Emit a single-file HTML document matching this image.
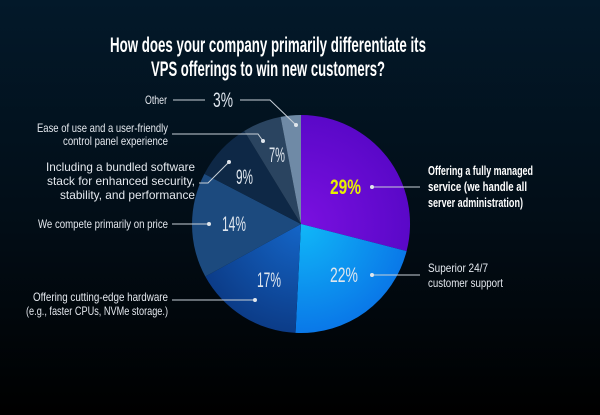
<!DOCTYPE html><html><head><style>
body{margin:0;width:600px;height:415px;overflow:hidden;background:linear-gradient(180deg,#03192a 0%,#020d16 55%,#000 100%);font-family:"Liberation Sans",sans-serif}
</style></head><body>
<svg width="600" height="415" xmlns="http://www.w3.org/2000/svg" style="position:absolute;left:0;top:0">
<defs>
<radialGradient id="gp" cx="301" cy="224" r="109" gradientUnits="userSpaceOnUse"><stop offset="0" stop-color="#7a10e0"/><stop offset="1" stop-color="#5a08c8"/></radialGradient>
<radialGradient id="gl" cx="301" cy="224" r="109" gradientUnits="userSpaceOnUse"><stop offset="0" stop-color="#10b8f8"/><stop offset="1" stop-color="#0a78e8"/></radialGradient>
<radialGradient id="gb" cx="301" cy="224" r="109" gradientUnits="userSpaceOnUse"><stop offset="0" stop-color="#1466c8"/><stop offset="1" stop-color="#0c3c88"/></radialGradient>
</defs>
<g font-family="Liberation Sans, sans-serif" font-size="21" font-weight="bold" fill="#fff">
<text x="110" y="52" textLength="316" lengthAdjust="spacingAndGlyphs">How does your company primarily differentiate its</text>
<text x="151" y="76" textLength="234" lengthAdjust="spacingAndGlyphs">VPS offerings to win new customers?</text>
</g>
<g stroke="none">
<path d="M301 224 L301 115 A109 109 0 0 1 406.6 251.1 Z" fill="url(#gp)"/>
<path d="M301 224 L406.6 251.1 A109 109 0 0 1 295.5 332.9 Z" fill="url(#gl)"/>
<path d="M301 224 L295.5 332.9 A109 109 0 0 1 205.3 276.5 Z" fill="url(#gb)"/>
<path d="M301 224 L205.3 276.5 A109 109 0 0 1 204.4 173.9 Z" fill="#1c4a7e"/>
<path d="M301 224 L204.4 173.9 A109 109 0 0 1 244.2 131 Z" fill="#0e2846"/>
<path d="M301 224 L244.2 131 A109 109 0 0 1 280.6 116.9 Z" fill="#2a4460"/>
<path d="M301 224 L280.6 116.9 A109 109 0 0 1 301 115 Z" fill="#6f8aa6"/>
</g>
<g stroke="#c8d0d8" stroke-width="1" fill="none">
<path d="M173 100 H205 M240 100 H270 L296 125"/>
<path d="M172 134 H258 L263 141"/>
<path d="M199 183 H208 L229 162"/>
<path d="M172 224 H209"/>
<path d="M172 300 H255"/>
<path d="M372 275 H420"/>
<path d="M372 187 H420"/>
</g>
<g fill="#e0e6ec"><circle cx="296" cy="125" r="2"/><circle cx="263" cy="141" r="2"/><circle cx="229" cy="162" r="2"/><circle cx="209" cy="224" r="2"/><circle cx="255" cy="300" r="2"/><circle cx="372" cy="275" r="2"/><circle cx="372" cy="187" r="2"/></g>
<g font-family="Liberation Sans, sans-serif" font-size="21" fill="#dfe6ee">
<text x="213" y="107" textLength="20" lengthAdjust="spacingAndGlyphs">3%</text>
<text x="269" y="162" textLength="16" lengthAdjust="spacingAndGlyphs">7%</text>
<text x="236" y="184" textLength="17" lengthAdjust="spacingAndGlyphs">9%</text>
<text x="222" y="231" textLength="24" lengthAdjust="spacingAndGlyphs">14%</text>
<text x="257" y="287" textLength="24" lengthAdjust="spacingAndGlyphs">17%</text>
<text x="330" y="282" textLength="28" lengthAdjust="spacingAndGlyphs">22%</text>
<text x="330" y="194" textLength="31" lengthAdjust="spacingAndGlyphs" fill="#e8f000" font-weight="bold">29%</text>
</g>
<g font-family="Liberation Sans, sans-serif" font-size="12" fill="#e4e8ee">
<text x="145" y="104" textLength="22" lengthAdjust="spacingAndGlyphs">Other</text>
<text x="37" y="132" textLength="131" lengthAdjust="spacingAndGlyphs">Ease of use and a user-friendly</text>
<text x="63" y="145" textLength="105" lengthAdjust="spacingAndGlyphs">control panel experience</text>
<text x="46" y="171" textLength="149" lengthAdjust="spacingAndGlyphs">Including a bundled software</text>
<text x="47" y="185" textLength="148" lengthAdjust="spacingAndGlyphs">stack for enhanced security,</text>
<text x="60" y="199" textLength="135" lengthAdjust="spacingAndGlyphs">stability, and performance</text>
<text x="38" y="228" textLength="130" lengthAdjust="spacingAndGlyphs">We compete primarily on price</text>
<text x="33" y="301" textLength="135" lengthAdjust="spacingAndGlyphs">Offering cutting-edge hardware</text>
<text x="26" y="315" textLength="142" lengthAdjust="spacingAndGlyphs">(e.g., faster CPUs, NVMe storage.)</text>
</g>
<g font-family="Liberation Sans, sans-serif" font-size="13" fill="#fff">
<text x="428" y="175" font-weight="bold" textLength="105" lengthAdjust="spacingAndGlyphs">Offering a fully managed</text>
<text x="428" y="191" font-weight="bold" textLength="99" lengthAdjust="spacingAndGlyphs">service (we handle all</text>
<text x="428" y="207" font-weight="bold" textLength="95" lengthAdjust="spacingAndGlyphs">server administration)</text>
<text x="428" y="272" font-size="12" fill="#e4e8ee" textLength="60" lengthAdjust="spacingAndGlyphs">Superior 24/7</text>
<text x="428" y="287" font-size="12" fill="#e4e8ee" textLength="75" lengthAdjust="spacingAndGlyphs">customer support</text>
</g>
</svg>
</body></html>
